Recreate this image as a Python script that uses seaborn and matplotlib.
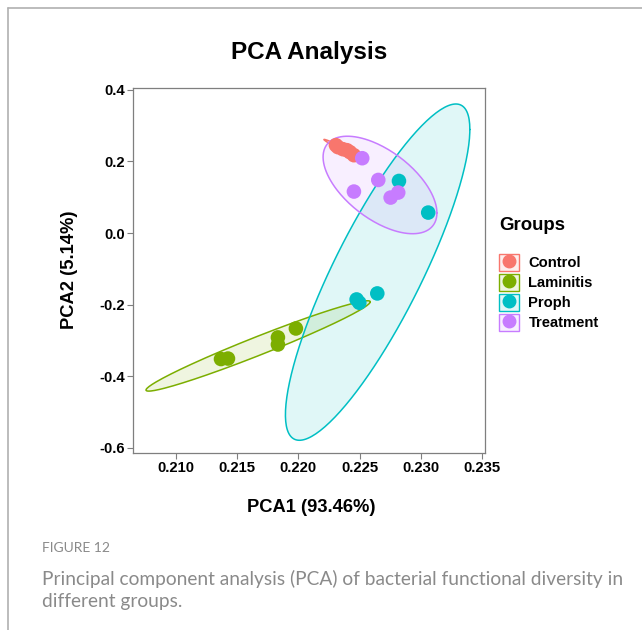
import numpy as np
import pandas as pd
import matplotlib
matplotlib.use("Agg")
import matplotlib.pyplot as plt
import seaborn as sns
from matplotlib.patches import Patch
from matplotlib.lines import Line2D
from matplotlib.legend_handler import HandlerTuple

# ---- data ----
groups = ["Control", "Laminitis", "Proph", "Treatment"]
colors = ["#F8766D", "#7CAE00", "#00BFC4", "#C77CFF"]

control_x = [0.22307, 0.22324, 0.22364, 0.22397, 0.22422, 0.22454]
control_y = [0.2454, 0.2398, 0.2342, 0.2314, 0.2258, 0.2174]

laminitis_x = [0.21368, 0.21425, 0.21833, 0.21833, 0.21980]
laminitis_y = [-0.3517, -0.3503, -0.2913, -0.3111, -0.2664]

proph_x = [0.22822, 0.23061, 0.22476, 0.22498, 0.22645]
proph_y = [0.1455, 0.0572, -0.1853, -0.1945, -0.1685]

treatment_x = [0.22522, 0.22653, 0.22454, 0.22754, 0.22816]
treatment_y = [0.2090, 0.1483, 0.1159, 0.0991, 0.1131]

x_ticks = [0.210, 0.215, 0.220, 0.225, 0.230, 0.235]
y_ticks = [0.4, 0.2, 0.0, -0.2, -0.4, -0.6]

title = "PCA Analysis"
x_label = "PCA1 (93.46%)"
y_label = "PCA2 (5.14%)"
legend_title = "Groups"
caption_head = "FIGURE 12"
caption_text = ("Principal component analysis (PCA) of bacterial functional diversity in\n"
                "different groups.")

xs = [control_x, laminitis_x, proph_x, treatment_x]
ys = [control_y, laminitis_y, proph_y, treatment_y]
df = pd.DataFrame({
    "PC1": sum(xs, []),
    "PC2": sum(ys, []),
    "Group": sum([[g] * len(x) for g, x in zip(groups, xs)], []),
})


def cov_trob(x, nu=5, maxit=25, tol=0.01):
    """Multivariate-t robust location/scatter (as MASS::cov.trob)."""
    n, p = x.shape
    loc = x.mean(axis=0)
    w = np.ones(n)
    X = x - loc
    for _ in range(maxit):
        w0 = w
        X = x - loc
        _, d, vt = np.linalg.svd(np.sqrt(w / w.sum())[:, None] * X, full_matrices=False)
        wX = X @ vt.T @ np.diag(1 / d)
        Q = (wX ** 2).sum(axis=1)
        w = (nu + p) / (nu + Q)
        loc = (w[:, None] * x).sum(axis=0) / w.sum()
        if np.all(np.abs(w - w0) < tol):
            break
    cov = (np.sqrt(w)[:, None] * X).T @ (np.sqrt(w)[:, None] * X) / n
    return loc, cov


# ---- figure ----
sns.set_theme(style="white")
plt.rcParams["font.family"] = ["Liberation Sans", "DejaVu Sans"]
plt.rcParams["text.color"] = "black"

fig = plt.figure(figsize=(6.42, 6.30), dpi=100)
ax = fig.add_axes([133 / 642, 1 - 453 / 630, (485 - 133) / 642, (453 - 88) / 630])

# 95% confidence ellipses (multivariate t, as ggplot2 stat_ellipse)
level = 0.95
theta = np.linspace(0, 2 * np.pi, 200)
circle = np.column_stack([np.cos(theta), np.sin(theta)])
for g, c in zip(groups, colors):
    sub = df[df.Group == g][["PC1", "PC2"]].to_numpy()
    n = len(sub)
    d = n - 1
    fq = d / 2 * ((1 - level) ** (-2 / d) - 1)
    radius = np.sqrt(2 * fq)
    center, cov = cov_trob(sub)
    L = np.linalg.cholesky(cov + np.eye(2) * 1e-14)
    ell = center + radius * circle @ L.T
    ax.fill(ell[:, 0], ell[:, 1], facecolor=c, alpha=0.12, edgecolor="none", zorder=1)
    ax.plot(ell[:, 0], ell[:, 1], color=c, lw=1.1, zorder=2)

sns.scatterplot(data=df, x="PC1", y="PC2", hue="Group", hue_order=groups,
                palette=colors, s=110, edgecolor="none", legend=False, ax=ax, zorder=3)

ax.set_xlim(0.20649, 0.23525)
ax.set_ylim(-0.614, 0.405)
ax.set_xticks(x_ticks)
ax.set_xticklabels([f"{v:.3f}" for v in x_ticks])
ax.set_yticks(y_ticks)
ax.set_yticklabels([f"{v:.1f}" for v in y_ticks])
for s in ax.spines.values():
    s.set_color("#7f7f7f")
    s.set_linewidth(0.9)
ax.tick_params(axis="both", which="major", length=4, width=0.8, color="#7f7f7f",
               labelsize=10.7, labelcolor="black", pad=2, bottom=True, left=True)
for lab in ax.get_xticklabels() + ax.get_yticklabels():
    lab.set_fontweight("bold")
ax.set_xlabel("")
ax.set_ylabel("")

fig.text(309 / 642, 1 - 53 / 630, title, ha="center", va="center",
         fontsize=17.5, fontweight="bold", color="black")
fig.text(311 / 642, 1 - 508 / 630, x_label, ha="center", va="center",
         fontsize=13.2, fontweight="bold", color="black")
fig.text(70 / 642, 1 - 270 / 630, y_label, ha="center", va="center",
         fontsize=13.2, fontweight="bold", rotation=90, color="black")

# legend
fig.text(499 / 642, 1 - 225 / 630, legend_title, ha="left", va="center",
         fontsize=13.4, fontweight="bold", color="black")
handles = []
for c in colors:
    p = Patch(facecolor=matplotlib.colors.to_rgba(c, 0.12), edgecolor=c, linewidth=1.0)
    m = Line2D([], [], marker="o", color=c, linestyle="none", markersize=9.0)
    handles.append((p, m))
leg = fig.legend(handles, groups, handler_map={tuple: HandlerTuple(ndivide=1, pad=0)},
                 loc="upper left", bbox_to_anchor=(499 / 642, 1 - 254 / 630),
                 frameon=False, handlelength=1.35, handleheight=1.35,
                 handletextpad=0.65, labelspacing=0.24, borderaxespad=0, borderpad=0,
                 prop={"weight": "bold", "size": 10.6})

# journal frame and caption
fig.add_artist(Line2D([8 / 642, 8 / 642], [0, 1 - 8 / 630], color="#b0b0b0", lw=1.2))
fig.add_artist(Line2D([8 / 642, 1], [1 - 8 / 630, 1 - 8 / 630], color="#b0b0b0", lw=1.2))
fig.text(42 / 642, 1 - 548 / 630, caption_head, ha="left", va="center",
         fontsize=10, color="#8a8a8a", family=["Lato", "DejaVu Sans"])
fig.text(42 / 642, 1 - 590 / 630, caption_text, ha="left", va="center",
         fontsize=13.8, color="#8a8a8a", family=["Lato", "DejaVu Sans"],
         linespacing=1.36)

fig.savefig("out.png", dpi=100)
